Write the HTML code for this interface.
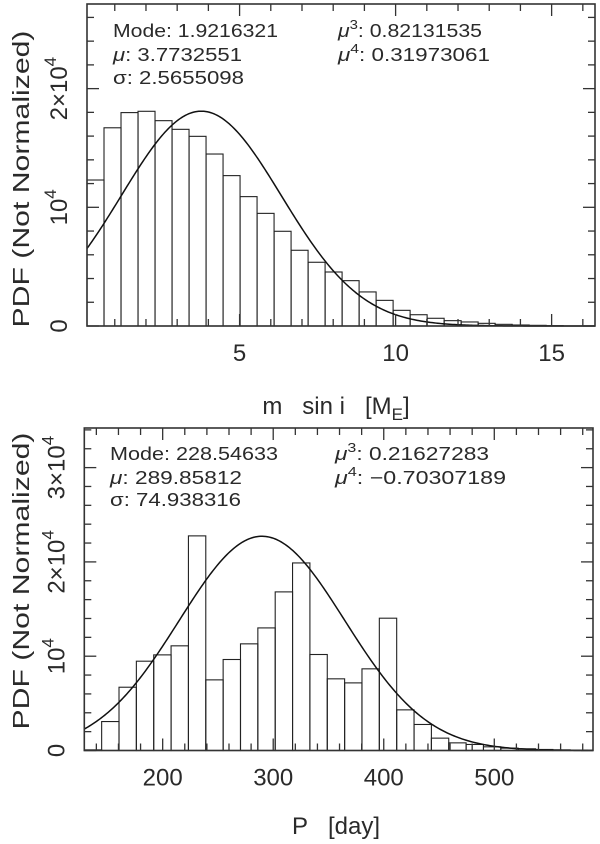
<!DOCTYPE html>
<html><head><meta charset="utf-8"><style>
html,body{margin:0;padding:0;background:#fff;}
svg{display:block;font-family:"Liberation Sans",Arial,sans-serif;}
text{fill:#2a2a2a;}
</style></head><body>
<svg id="chart" width="600" height="844" viewBox="0 0 600 844" xmlns="http://www.w3.org/2000/svg"></svg>
<script>
// ---- Top panel data (m sin i) ----
const topBinStart = 0.11;
const topBinWidth = 0.545;
const topCounts = [12300,16700,17980,18090,17300,16570,15980,14490,12670,10900,9490,7980,6380,5370,4550,3820,2870,2160,1320,950,650,450,340,225,140,84,56,28];
const topMu = [3.7732551];
const topSigma = [2.5655098];
const topPeak = [18100];
const topXTicks = [5,10,15];
const topYTicks = [0,10000,20000];
const topYLabels = ["0","10|4","2×10|4"];
// ---- Bottom panel data (P) ----
const botBinStart = 129.1;
const botBinWidth = 15.7;
const botCounts = [70,3070,6710,9470,10140,11100,22760,7490,9650,11310,13000,16820,19890,10180,7600,7170,8660,14030,4310,2760,1310,810,640,390,250,180,110,70,35];
const botMu = [289.85812];
const botSigma = [74.938316];
const botPeak = [22720];
const botXTicks = [200,300,400,500];
const botYTicks = [0,10000,20000,30000];
const botYLabels = ["0","10|4","2×10|4","3×10|4"];

const NS="http://www.w3.org/2000/svg";
const svg=document.getElementById('chart');
function mk(tag,attrs,parent){const e=document.createElementNS(NS,tag);for(const k in attrs)e.setAttribute(k,attrs[k]);(parent||svg).appendChild(e);return e;}

function panel(o){
  const g=mk('g',{});
  
  
  const sx=v=>o.L+(v-o.xmin)/(o.xmax-o.xmin)*(o.R-o.L);
  const sy=v=>o.B-v/o.ymax*(o.B-o.T);
  o.counts.forEach((c,i)=>{
    const x0=sx(o.binStart+i*o.binW), x1=sx(o.binStart+(i+1)*o.binW);
    const r=mk('rect',{x:x0,y:sy(c),width:x1-x0,height:o.B-sy(c),fill:'none',stroke:'#222','stroke-width':1.1},g);
    
    
  });
  let d='';
  for(let k=0;k<=300;k++){const x=o.xmin+(o.xmax-o.xmin)*k/300;const y=o.peak*Math.exp(-Math.pow(x-o.mu,2)/(2*o.sigma*o.sigma));d+=(k?'L':'M')+sx(x).toFixed(2)+','+sy(y).toFixed(2);}
  const p=mk('path',{d:d,fill:'none',stroke:'#111','stroke-width':1.5},g);
  
  
  const f=mk('rect',{x:o.L,y:o.T,width:o.R-o.L,height:o.B-o.T,fill:'none',stroke:'#333','stroke-width':1.6},g);
  
  
  for(let v=Math.ceil(o.xmin/o.xminor)*o.xminor; v<=o.xmax; v+=o.xminor){
    const vv=Math.round(v*1000)/1000;const major=Math.abs(vv/o.xmajor-Math.round(vv/o.xmajor))<1e-6;const len=major?12:7;const x=sx(vv);
    mk('line',{x1:x,y1:o.B,x2:x,y2:o.B-len,stroke:'#333','stroke-width':1.3},g);
    mk('line',{x1:x,y1:o.T,x2:x,y2:o.T+len,stroke:'#333','stroke-width':1.3},g);
  }
  for(let v=0; v<=o.ymax; v+=2000){
    const major=v%10000===0;const len=major?12:7;const y=sy(v);
    mk('line',{x1:o.L,y1:y,x2:o.L+len,y2:y,stroke:'#333','stroke-width':1.3},g);
    mk('line',{x1:o.R,y1:y,x2:o.R-len,y2:y,stroke:'#333','stroke-width':1.3},g);
  }
  o.xticks.forEach(v=>{const t=mk('text',{x:sx(v),y:o.B+35,'text-anchor':'middle','font-size':24,fill:'#333'},g);t.textContent=String(v);
    });
  o.yticks.forEach((v,i)=>{const y=sy(v);const t=mk('text',{x:0,y:0,'text-anchor':'middle','font-size':24,fill:'#333',transform:`translate(${o.L-20},${y}) rotate(-90)`},g);
    const parts=o.ylabels[i].split('|');
    if(parts.length>1){t.innerHTML=parts[0]+'<tspan font-size="17" dy="-11">'+parts[1]+'</tspan>';}else{t.textContent=parts[0];}
    });
  const yl=mk('text',{x:0,y:0,'text-anchor':'middle','font-size':23,fill:'#333',textLength:297,lengthAdjust:'spacingAndGlyphs',transform:`translate(29,${o.ylabY}) rotate(-90)`},g);
  yl.textContent='PDF  (Not  Normalized)';
  
  const xl=mk('text',{x:o.xlabX,y:o.xlabY,'text-anchor':'middle','font-size':24,fill:'#333'},g);
  xl.innerHTML=o.xlab;
  
  o.stats.forEach(s=>{const t=mk('text',{x:s[0],y:s[1],'font-size':18.5,textLength:s[3],lengthAdjust:'spacingAndGlyphs'},g);t.innerHTML=s[2];
    });
}

panel({name:'msini-panel',L:87,R:595,T:4,B:326,xmin:0.11,xmax:16.39,ymax:27130,xminor:1,xmajor:5,
  binStart:topBinStart,binW:topBinWidth,counts:topCounts,mu:topMu[0],sigma:topSigma[0],peak:topPeak[0],
  xticks:topXTicks,yticks:topYTicks,ylabels:topYLabels,ylabY:179,xlabX:336,xlabY:414,
  xlab:'m&#160;&#160;&#160;sin i&#160;&#160;&#160;[M<tspan font-size="17" dy="6">E</tspan><tspan dy="-6">]</tspan>',
  stats:[[113,37,'Mode: 1.9216321',165],[113,61,'<tspan font-style="italic">μ</tspan>: 3.7732551',129],[113,84,'σ: 2.5655098',131],
         [338,37,'<tspan font-style="italic">μ</tspan><tspan font-size="13" dy="-8">3</tspan><tspan dy="8">: 0.82131535</tspan>',144],
         [338,61,'<tspan font-style="italic">μ</tspan><tspan font-size="13" dy="-8">4</tspan><tspan dy="8">: 0.31973061</tspan>',152]]});

panel({name:'period-panel',L:84.3,R:593,T:428,B:750.5,xmin:129.1,xmax:589.3,ymax:34200,xminor:20,xmajor:100,
  binStart:botBinStart,binW:botBinWidth,counts:botCounts,mu:botMu[0],sigma:botSigma[0],peak:botPeak[0],
  xticks:botXTicks,yticks:botYTicks,ylabels:botYLabels,ylabY:581,xlabX:336,xlabY:834,
  xlab:'P&#160;&#160;&#160;[day]',
  stats:[[110,460,'Mode: 228.54633',168],[110,484,'<tspan font-style="italic">μ</tspan>: 289.85812',132],[110,506,'σ: 74.938316',131],
         [335,460,'<tspan font-style="italic">μ</tspan><tspan font-size="13" dy="-8">3</tspan><tspan dy="8">: 0.21627283</tspan>',154],
         [335,484,'<tspan font-style="italic">μ</tspan><tspan font-size="13" dy="-8">4</tspan><tspan dy="8">: −0.70307189</tspan>',171]]});
</script>
</body></html>
